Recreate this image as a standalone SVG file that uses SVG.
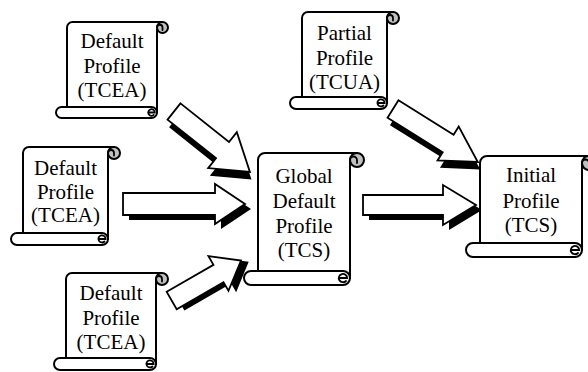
<svg xmlns="http://www.w3.org/2000/svg" xmlns:xlink="http://www.w3.org/1999/xlink" width="588" height="372" viewBox="0 0 588 372">
<style>
.bd{fill:#fff;stroke:#000;stroke-width:2;stroke-linejoin:round}
.cu{fill:#c0c0c0;stroke:#000;stroke-width:2}
.ln{fill:none;stroke:#000;stroke-width:1.8;stroke-linecap:round}
.t{font-family:"Liberation Serif","Times New Roman",serif;font-size:21px;fill:#000;text-anchor:middle}
.aw{fill:#fff;stroke:#000;stroke-width:1.8;stroke-linejoin:miter}
.sh{fill:#000}
</style>
<defs>
<path id="pA" d="M0,-10.4 H62 V-23 L97,0 L62,23 V10.4 H0 Z"/>
<path id="pB" d="M0,-11 H92 V-20 L122,0 L92,20 V11 H0 Z"/>
<path id="pC" d="M0,-10 H54 V-20 L80,0 L54,20 V10 H0 Z"/>
<path id="pD" d="M0,-10 H80 V-20 L113,0 L80,20 V10 H0 Z"/>
<path id="pE" d="M0,-10.3 H65 V-20 L100,0 L65,20 V10.3 H0 Z"/>
</defs>
<rect width="588" height="372" fill="#fff"/>
<g id="connectors">
<g transform="translate(174,111.5) rotate(38.5)"><use xlink:href="#pA" class="sh" transform="translate(6,5)"/><use xlink:href="#pA" class="aw"/></g>
<g transform="translate(123,204)"><use xlink:href="#pB" class="sh" transform="translate(6,5)"/><use xlink:href="#pB" class="aw"/></g>
<g transform="translate(171.7,300.5) rotate(-30)"><use xlink:href="#pC" class="sh" transform="translate(6,5)"/><use xlink:href="#pC" class="aw"/></g>
<g transform="translate(363,205)"><use xlink:href="#pD" class="sh" transform="translate(6,5)"/><use xlink:href="#pD" class="aw"/></g>
<g transform="translate(393,109) rotate(32)"><use xlink:href="#pE" class="sh" transform="translate(6,5)"/><use xlink:href="#pE" class="aw"/></g>
</g>
<g id="s1">
<path class="bd" d="M67,112.5 V27.5 A5.5,5.5 0 0 1 72.5,22 H162.5 L157,27.5 V112.5 Z"/>
<rect class="bd" x="56" y="107" width="101" height="11" rx="5.5"/>
<path class="ln" d="M148.2,112.5 H154.8 A3.3,3.3 0 1 0 153.8,114.9"/>
<circle class="cu" cx="162.5" cy="27.5" r="5.5"/>
<path class="ln" d="M157,27.5 A2.75,2.75 0 0 1 162.5,27.5 V30"/>
<text class="t" x="112" y="48">Default</text>
<text class="t" x="112" y="73">Profile</text>
<text class="t" x="112" y="97">(TCEA)</text>
</g>
<g id="s2">
<path class="bd" d="M23,239 V153 A6,6 0 0 1 29,147 H114 L108,153 V239 Z"/>
<rect class="bd" x="11" y="233" width="97" height="12" rx="6"/>
<path class="ln" d="M98.4,239 H105.6 A3.6,3.6 0 1 0 104.5,241.5"/>
<circle class="cu" cx="114" cy="153" r="6"/>
<path class="ln" d="M108,153 A3,3 0 0 1 114,153 V155.5"/>
<text class="t" x="65.5" y="175">Default</text>
<text class="t" x="65.5" y="199">Profile</text>
<text class="t" x="65.5" y="222">(TCEA)</text>
</g>
<g id="s3">
<path class="bd" d="M66,364 V279 A6,6 0 0 1 72,273 H162 L156,279 V364 Z"/>
<rect class="bd" x="54" y="358" width="102" height="12" rx="6"/>
<path class="ln" d="M146.4,364 H153.6 A3.6,3.6 0 1 0 152.5,366.5"/>
<circle class="cu" cx="162" cy="279" r="6"/>
<path class="ln" d="M156,279 A3,3 0 0 1 162,279 V281.5"/>
<text class="t" x="111" y="300">Default</text>
<text class="t" x="111" y="325">Profile</text>
<text class="t" x="111" y="349">(TCEA)</text>
</g>
<g id="s4">
<path class="bd" d="M258,278 V160 A7,7 0 0 1 265,153 H357 L350,160 V278 Z"/>
<rect class="bd" x="244" y="271" width="106" height="14" rx="7"/>
<path class="ln" d="M338.8,278 H347.2 A4.2,4.2 0 1 0 346,281"/>
<circle class="cu" cx="357" cy="160" r="7"/>
<path class="ln" d="M350,160 A3.5,3.5 0 0 1 357,160 V163"/>
<text class="t" x="304" y="183">Global</text>
<text class="t" x="304" y="208">Default</text>
<text class="t" x="304" y="233">Profile</text>
<text class="t" x="304" y="257">(TCS)</text>
</g>
<g id="s5">
<path class="bd" d="M302,103 V18 A6,6 0 0 1 308,12 H393 L387,18 V103 Z"/>
<rect class="bd" x="290" y="97" width="97" height="12" rx="6"/>
<path class="ln" d="M377.4,103 H384.6 A3.6,3.6 0 1 0 383.5,105.5"/>
<circle class="cu" cx="393" cy="18" r="6"/>
<path class="ln" d="M387,18 A3,3 0 0 1 393,18 V20.5"/>
<text class="t" x="344.5" y="40">Partial</text>
<text class="t" x="344.5" y="65">Profile</text>
<text class="t" x="344.5" y="89">(TCUA)</text>
</g>
<g id="s6">
<path class="bd" d="M480,250 V163 A7,7 0 0 1 487,156 H589 L582,163 V250 Z"/>
<rect class="bd" x="466" y="243" width="116" height="14" rx="7"/>
<path class="ln" d="M570.8,250 H579.2 A4.2,4.2 0 1 0 578,253"/>
<circle class="cu" cx="589" cy="163" r="7"/>
<path class="ln" d="M582,163 A3.5,3.5 0 0 1 589,163 V166"/>
<text class="t" x="531" y="182">Initial</text>
<text class="t" x="531" y="208">Profile</text>
<text class="t" x="531" y="232">(TCS)</text>
</g>
</svg>
